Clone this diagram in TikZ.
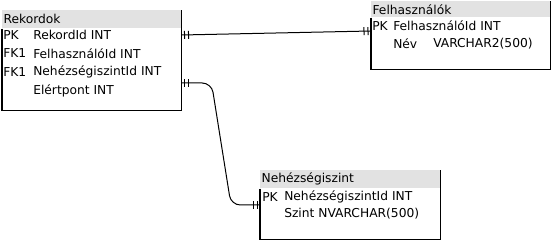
\documentclass[tikz,border=0pt]{standalone}
\usepackage{fontspec}
\setmainfont{DejaVu Sans}
\usepackage{tikz}
\usetikzlibrary{positioning,calc,decorations.markings}
\definecolor{HeadGray}{RGB}{226,226,226}
\newcommand{\tblfont}{\fontsize{9.2}{11}\selectfont}
\tikzset{
    tblbox/.style={rectangle, inner sep=0pt, anchor=north west},
    tblhead/.style={rectangle, fill=HeadGray, inner sep=0pt, anchor=north west},
    celltxt/.style={anchor=west, inner sep=0pt, font=\tblfont, text=black},
    tblborder/.style={draw=black, line width=0.9pt},
    % Kiểu quan hệ 1-1: hai vạch ở mỗi đầu
    onetoone/.style={
        draw=black, line width=0.75pt,
        postaction={decorate},
        decoration={markings,
            mark=at position 2.25pt with {\draw[line width=0.75pt] (0,-3pt) -- (0,3pt);},
            mark=at position 5.25pt with {\draw[line width=0.75pt] (0,-3pt) -- (0,3pt);},
            mark=at position -2.25pt with {\draw[line width=0.75pt] (0,-3pt) -- (0,3pt);},
            mark=at position -5.25pt with {\draw[line width=0.75pt] (0,-3pt) -- (0,3pt);}
        }
    }
}

\begin{document}
\begin{tikzpicture}[x=0.75pt, y=-0.75pt]
    \useasboundingbox (0,0) rectangle (551,241);

    % Bảng Rekordok
    \node[tblbox, minimum width=134.25pt, minimum height=75pt] (rek) at (2,10) {};
    \node[tblhead, minimum width=134.25pt, minimum height=13.5pt] (rekhead) at (rek.north west) {};
    \node[celltxt] (rektitle) at ([xshift=1pt]rekhead.west) {Rekordok};
    \draw[tblborder] (rekhead.south west) -- (rek.south west) -- (rek.south east) -- (rek.north east);
    \node[celltxt] (rekk1) at (3,35) {PK};
    \node[celltxt] (rekc1) at (33,35) {RekordId INT};
    \node[celltxt] (rekk2) at (3,53.5) {FK1};
    \node[celltxt] (rekc2) at (33,53.5) {FelhasználóId INT};
    \node[celltxt] (rekk3) at (3,72) {FK1};
    \node[celltxt] (rekc3) at (33,72) {NehézségiszintId INT};
    \node[celltxt] (rekc4) at (33,90.5) {Elértpont INT};

    % Bảng Felhasználók
    \node[tblbox, minimum width=134.25pt, minimum height=51pt] (fel) at (371,1) {};
    \node[tblhead, minimum width=134.25pt, minimum height=12pt] (felhead) at (fel.north west) {};
    \node[celltxt] (feltitle) at ([xshift=1pt]felhead.west) {Felhasználók};
    \draw[tblborder] (felhead.south west) -- (fel.south west) -- (fel.south east) -- (fel.north east);
    \node[celltxt] (felk1) at (372,26) {PK};
    \node[celltxt] (felc1) at (393,26) {FelhasználóId INT};
    \node[celltxt] (felc2) at (393,44) {Név};
    \node[celltxt] (felt2) at (433,44) {VARCHAR2(500)};

    % Bảng Nehézségiszint
    \node[tblbox, minimum width=135pt, minimum height=51.75pt] (neh) at (260,170) {};
    \node[tblhead, minimum width=135pt, minimum height=13.5pt] (nehhead) at (neh.north west) {};
    \node[celltxt] (nehtitle) at ([xshift=1pt]nehhead.west) {Nehézségiszint};
    \draw[tblborder] (nehhead.south west) -- (neh.south west) -- (neh.south east) -- (neh.north east);
    \node[celltxt] (nehk1) at (262,197) {PK};
    \node[celltxt] (nehc1) at (284,197) {NehézségiszintId INT};
    \node[celltxt] (nehc2) at (284,214) {Szint NVARCHAR(500)};

    % Végpontok a bảng szélén
    \coordinate (rekA) at ($(rek.north east)+(0,25)$);
    \coordinate (rekB) at ($(rek.north east)+(0,73)$);
    \coordinate (felA) at ($(fel.north west)+(0,30)$);
    \coordinate (nehA) at ($(neh.north west)+(0,35)$);

    % Quan hệ
    \draw[onetoone] (rekA) -- (felA);
    \draw[onetoone, rounded corners=7pt] (rekB) -- ($(rekB)+(30,0)$) -- ($(nehA)+(-29,0)$) -- (nehA);
\end{tikzpicture}
\end{document}
